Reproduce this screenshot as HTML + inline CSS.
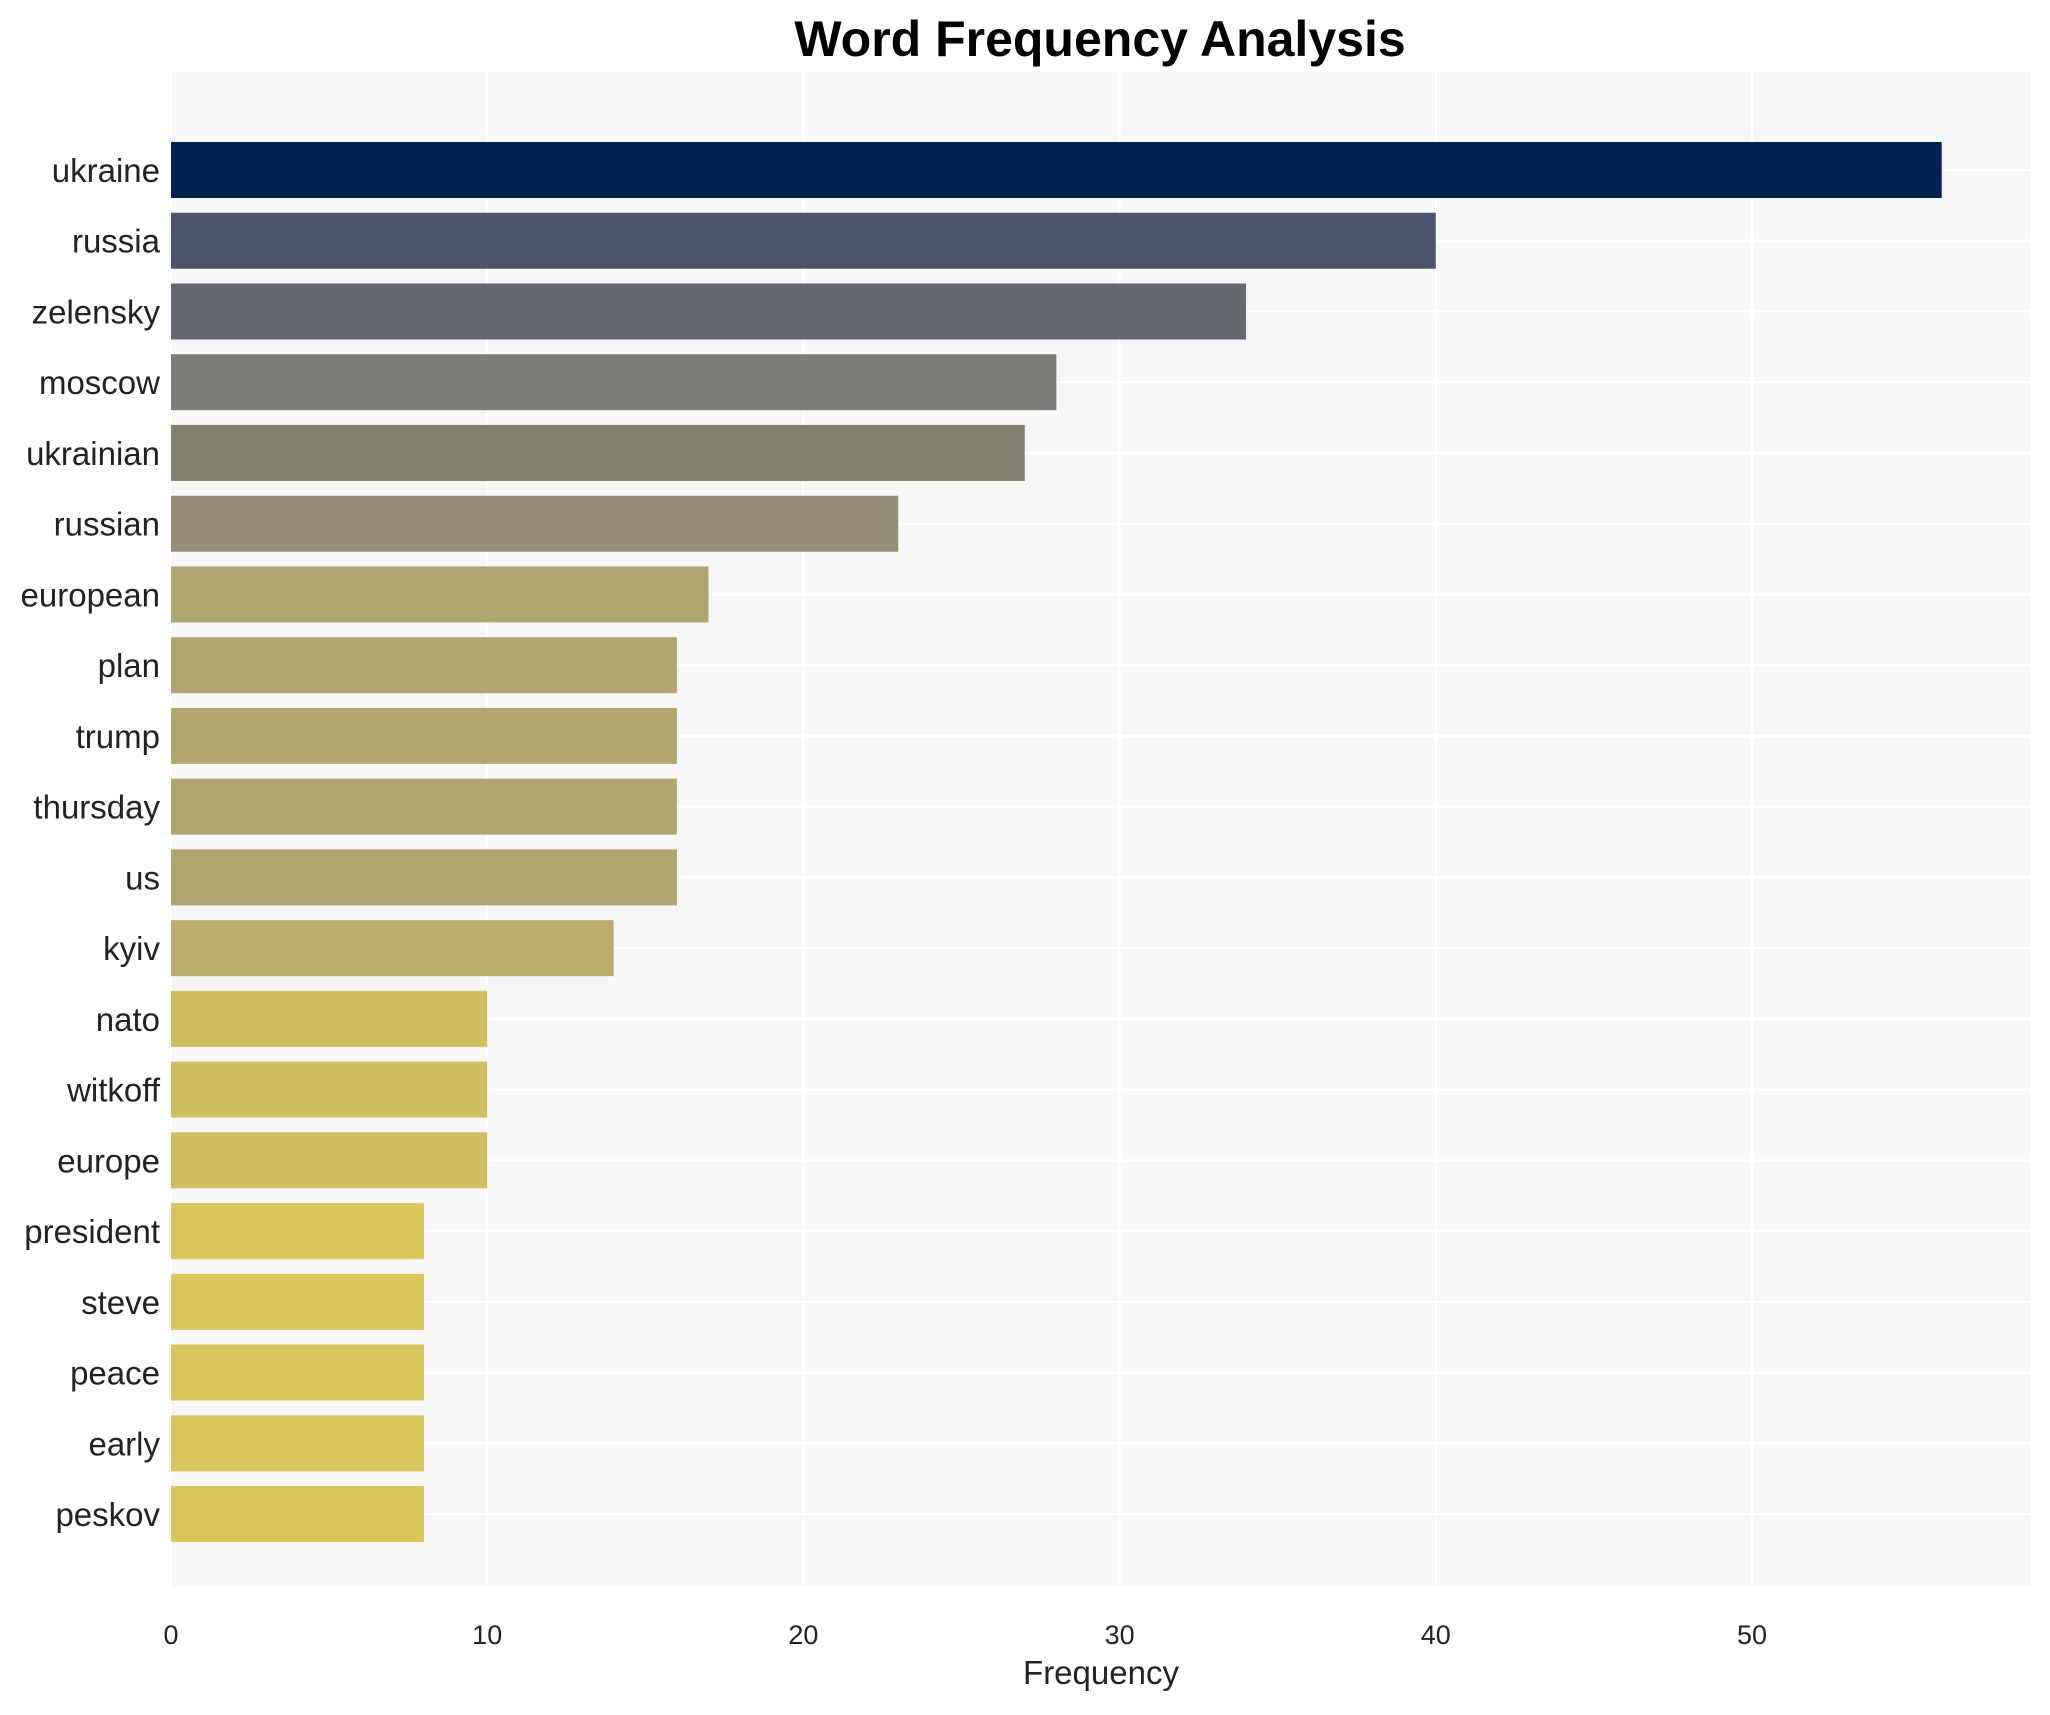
<!DOCTYPE html>
<html><head><meta charset="utf-8"><style>
html,body{margin:0;padding:0;background:#fff}
svg text{font-family:"Liberation Sans",Arial,sans-serif}
</style></head><body>
<svg id="chart" width="2050" height="1710" xmlns="http://www.w3.org/2000/svg">
<rect x="0" y="0" width="2050" height="1710" fill="#ffffff"/>
<text x="1100" y="56" text-anchor="middle" font-size="50" font-weight="bold" fill="#000">Word Frequency Analysis</text>
<rect x="171" y="72" width="1860" height="1514" fill="#f7f7f7"/>
<g id="grid"></g>
<g id="bars"></g>
<g id="ylabels"></g>
<g id="xticks"></g>
<text x="1101" y="1684" text-anchor="middle" font-size="33" fill="#222">Frequency</text>
</svg>
<script>
const categories = ["ukraine","russia","zelensky","moscow","ukrainian","russian","european","plan","trump","thursday","us","kyiv","nato","witkoff","europe","president","steve","peace","early","peskov"];
const values = [56,40,34,28,27,23,17,16,16,16,16,14,10,10,10,8,8,8,8,8];
const barColors = ["#00224e","#4d546d","#666870","#7d7c78","#82816e","#958d76","#b0a570","#b2a670","#b2a670","#b2a670","#b2a670","#bbae70","#cfbf60","#cfbf60","#cfbf60","#dbc55d","#dbc55d","#dbc55d","#dbc55d","#dbc55d"];
const xTicks = [0,10,20,30,40,50];

const NS = "http://www.w3.org/2000/svg";
const x0 = 171, pxPerUnit = 31.62, plotTop = 72, plotBottom = 1586, plotRight = 2031;
const firstCenter = 170, step = 70.74, barH = 56;
const xScale = v => x0 + v * pxPerUnit;
const yScale = i => firstCenter + i * step;

const grid = document.getElementById('grid');
xTicks.forEach(t => {
  const l = document.createElementNS(NS, 'line');
  l.setAttribute('x1', xScale(t)); l.setAttribute('x2', xScale(t));
  l.setAttribute('y1', plotTop); l.setAttribute('y2', plotBottom);
  l.setAttribute('stroke', '#ffffff'); l.setAttribute('stroke-width', '2');
  
  
  grid.appendChild(l);
});
categories.forEach((c, i) => {
  const l = document.createElementNS(NS, 'line');
  l.setAttribute('x1', x0); l.setAttribute('x2', plotRight);
  l.setAttribute('y1', yScale(i)); l.setAttribute('y2', yScale(i));
  l.setAttribute('stroke', '#ffffff'); l.setAttribute('stroke-width', '2');
  
  
  grid.appendChild(l);
});

const bars = document.getElementById('bars');
const ylabels = document.getElementById('ylabels');
categories.forEach((c, i) => {
  const r = document.createElementNS(NS, 'rect');
  r.setAttribute('x', xScale(0));
  r.setAttribute('y', yScale(i) - barH / 2);
  r.setAttribute('width', xScale(values[i]) - xScale(0));
  r.setAttribute('height', barH);
  r.setAttribute('fill', barColors[i]);
  
  
  bars.appendChild(r);
  const t = document.createElementNS(NS, 'text');
  t.setAttribute('x', 160);
  t.setAttribute('y', yScale(i) + 12);
  t.setAttribute('text-anchor', 'end');
  t.setAttribute('font-size', '33');
  t.setAttribute('fill', '#222');
  t.textContent = c;
  
  
  ylabels.appendChild(t);
});

const xt = document.getElementById('xticks');
xTicks.forEach(v => {
  const t = document.createElementNS(NS, 'text');
  t.setAttribute('x', xScale(v));
  t.setAttribute('y', 1644);
  t.setAttribute('text-anchor', 'middle');
  t.setAttribute('font-size', '27');
  t.setAttribute('fill', '#222');
  t.textContent = v;
  
  
  xt.appendChild(t);
});
</script>
</body></html>
